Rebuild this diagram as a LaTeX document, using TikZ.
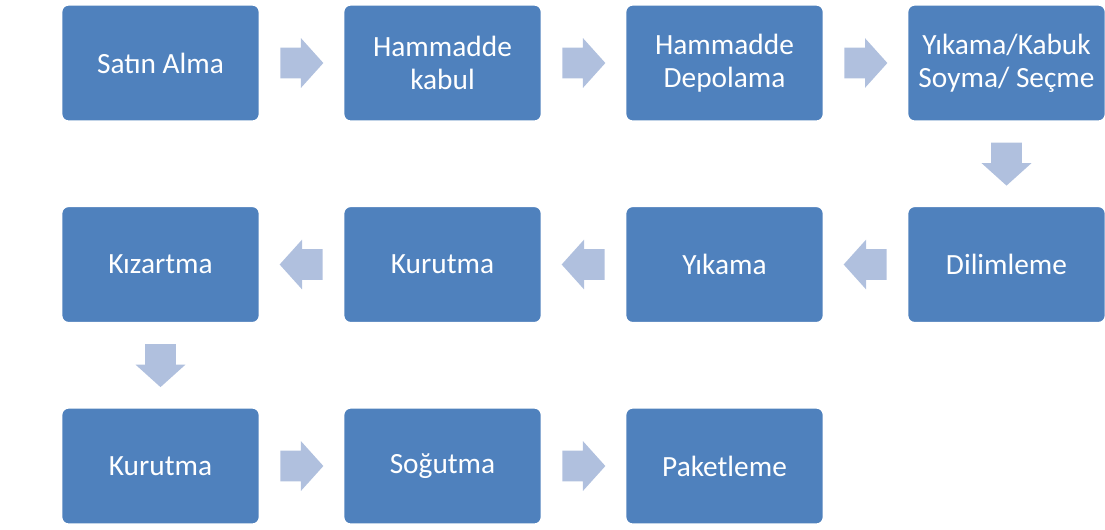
\documentclass[tikz,border=0pt]{standalone}
\usepackage{fontspec}
\setmainfont{Carlito}
\usetikzlibrary{positioning,shapes.arrows,calc}

\definecolor{boxblue}{HTML}{4F81BD}
\definecolor{arrowblue}{HTML}{B0C0DE}

\tikzset{
  stage/.style={draw=white, line width=1pt, fill=boxblue, rounded corners=4pt,
    minimum width=3.96cm, minimum height=2.33cm, inner sep=2pt,
    text=white, align=center, font=\fontsize{16.7}{18.8}\selectfont},
  flow/.style={single arrow, fill=arrowblue, draw=none, anchor=tail,
    minimum height=0.86cm, minimum width=0.98cm,
    single arrow head extend=0.19cm, single arrow tip angle=96},
  flowR/.style={flow, inner xsep=0pt, inner ysep=0.3cm},
  flowL/.style={flow, inner xsep=0pt, inner ysep=0.3cm, shape border rotate=180},
  flowD/.style={flow, inner xsep=0.3cm, inner ysep=0pt, shape border rotate=270},
}

\begin{document}
\begin{tikzpicture}[node distance=1.665cm and 1.645cm]

    % Size of the page
    \def\W{22.1}
    \def\H{10.58}
    \def\L{0.43cm}
    \useasboundingbox (0,0) rectangle (\W,-\H);

    % First row
    \node[stage] (satin) at (3.21,-1.26) {Satın Alma};
    \node[stage, right=of satin] (kabul) {Hammadde\\kabul};
    \node[stage, right=of kabul] (depo) {Hammadde\\Depolama};
    \node[stage, right=of depo] (soyma) {Yıkama/Kabuk\\Soyma/ Seçme};

    % Second row, right to left
    \node[stage, below=of soyma] (dilim) {Dilimleme};
    \node[stage, left=of dilim] (yikama) {Yıkama};
    \node[stage, left=of yikama] (kurutmaA) {Kurutma};
    \node[stage, left=of kurutmaA] (kizart) {Kızartma};

    % Third row
    \node[stage, below=of kizart] (kurutmaB) {Kurutma};
    \node[stage, right=of kurutmaB] (sogut) {Soğutma};
    \node[stage, right=of sogut] (paket) {Paketleme};

    % Block arrows between the stages (tail half a length back from the middle)
    \foreach \a/\b/\s in {satin/kabul/flowR, kabul/depo/flowR, depo/soyma/flowR,
        soyma/dilim/flowD, dilim/yikama/flowL, yikama/kurutmaA/flowL,
        kurutmaA/kizart/flowL, kizart/kurutmaB/flowD,
        kurutmaB/sogut/flowR, sogut/paket/flowR}
        \node[\s] (ar-\a) at ($(\a)!0.5!(\b)!\L!(\a)$) {};

\end{tikzpicture}
\end{document}
